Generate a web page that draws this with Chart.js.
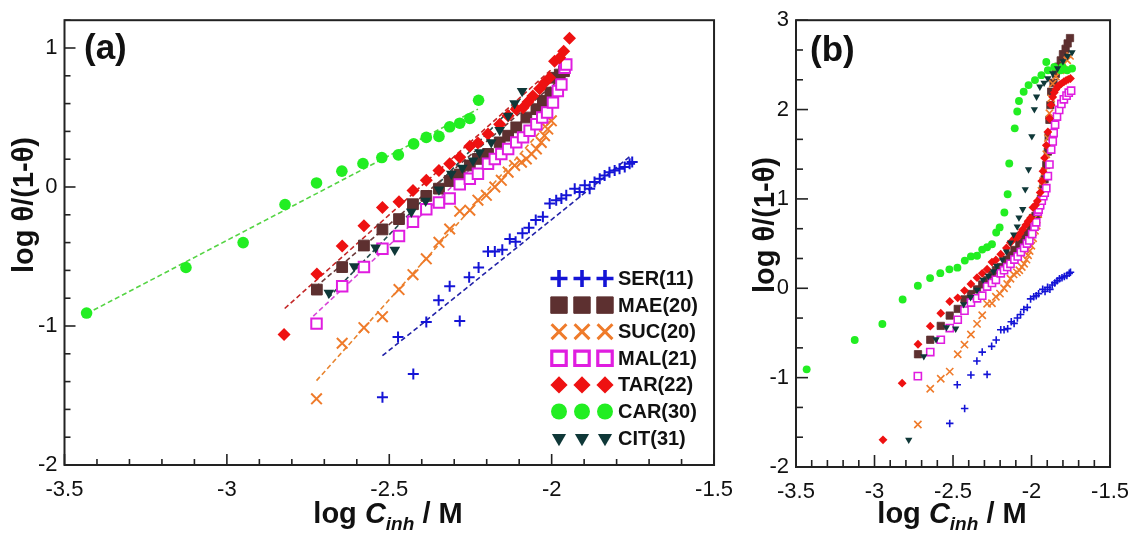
<!DOCTYPE html>
<html>
<head>
<meta charset="utf-8">
<script src="https://cdn.jsdelivr.net/npm/chart.js@4.4.0/dist/chart.umd.min.js"></script>
<style>
  body { margin: 0; background: #fff; width: 1141px; height: 533px; overflow: hidden; position: relative; }
  canvas { position: absolute; top: 0; }
  #chartA { left: 0; }
  #chartB { left: 745px; }
</style>
</head>
<body>
<canvas id="chartA" width="745" height="533"></canvas>
<canvas id="chartB" width="396" height="533"></canvas>
<script>
// axis ticks
const xTicks = [-3.5, -3, -2.5, -2, -1.5];
const yTicksA = [-2, -1, 0, 1];
const yTicksB = [-2, -1, 0, 1, 2, 3];
const seriesNames = ["SER(11)", "MAE(20)", "SUC(20)", "MAL(21)", "TAR(22)", "CAR(30)", "CIT(31)"];

// panel (a) points, log C vs log theta/(1-theta)
const serX = [-2.521, -2.473, -2.426, -2.386, -2.348, -2.314, -2.283, -2.254, -2.225, -2.196, -2.175, -2.152, -2.129, -2.111, -2.090, -2.070, -2.049, -2.027, -2.006, -1.986, -1.970, -1.955, -1.929, -1.914, -1.898, -1.883, -1.868, -1.852, -1.837, -1.822, -1.806, -1.791, -1.775, -1.760, -1.752];
const serY = [-1.512, -1.079, -1.345, -0.971, -0.814, -0.714, -0.964, -0.650, -0.579, -0.464, -0.464, -0.452, -0.374, -0.393, -0.333, -0.293, -0.238, -0.214, -0.119, -0.095, -0.083, -0.060, -0.012, -0.036, 0.012, -0.012, 0.036, 0.060, 0.083, 0.107, 0.119, 0.131, 0.143, 0.167, 0.179];
const maeX = [-2.723, -2.645, -2.578, -2.521, -2.470, -2.427, -2.386, -2.347, -2.314, -2.283, -2.252, -2.227, -2.196, -2.160, -2.134, -2.109, -2.078, -2.047, -2.027, -2.004, -1.991, -1.975, -1.962];
const maeY = [-0.738, -0.576, -0.421, -0.305, -0.231, -0.124, -0.064, -0.012, 0.043, 0.090, 0.155, 0.202, 0.238, 0.321, 0.369, 0.429, 0.500, 0.560, 0.619, 0.679, 0.786, 0.809, 0.833];
const sucX = [-2.724, -2.645, -2.578, -2.521, -2.470, -2.427, -2.386, -2.347, -2.314, -2.283, -2.252, -2.227, -2.201, -2.175, -2.155, -2.134, -2.114, -2.093, -2.078, -2.062, -2.047, -2.032, -2.022, -2.012, -2.001];
const sucY = [-1.524, -1.124, -1.012, -0.933, -0.738, -0.631, -0.517, -0.398, -0.302, -0.174, -0.167, -0.095, -0.060, 0.000, 0.048, 0.107, 0.155, 0.178, 0.202, 0.238, 0.274, 0.321, 0.369, 0.417, 0.476];
const malX = [-2.724, -2.645, -2.578, -2.521, -2.470, -2.427, -2.386, -2.347, -2.314, -2.283, -2.252, -2.227, -2.196, -2.175, -2.155, -2.134, -2.109, -2.088, -2.068, -2.047, -2.029, -2.014, -1.996, -1.981, -1.970, -1.960, -1.955];
const malY = [-0.983, -0.714, -0.576, -0.445, -0.352, -0.250, -0.160, -0.112, -0.083, 0.019, 0.060, 0.095, 0.167, 0.202, 0.238, 0.274, 0.321, 0.357, 0.405, 0.452, 0.500, 0.536, 0.607, 0.690, 0.738, 0.857, 0.881];
const tarX = [-2.824, -2.723, -2.645, -2.578, -2.521, -2.470, -2.427, -2.386, -2.347, -2.314, -2.283, -2.252, -2.227, -2.196, -2.160, -2.134, -2.109, -2.088, -2.073, -2.058, -2.037, -2.022, -2.006, -1.991, -1.975, -1.963, -1.945];
const tarY = [-1.062, -0.626, -0.424, -0.279, -0.148, -0.107, -0.026, 0.048, 0.119, 0.167, 0.214, 0.293, 0.317, 0.381, 0.452, 0.512, 0.560, 0.571, 0.612, 0.655, 0.707, 0.750, 0.786, 0.905, 0.929, 0.976, 1.071];
const carX = [-3.432, -3.126, -2.950, -2.821, -2.724, -2.646, -2.581, -2.523, -2.472, -2.425, -2.386, -2.347, -2.314, -2.283, -2.252, -2.225];
const carY = [-0.907, -0.579, -0.400, -0.126, 0.029, 0.114, 0.169, 0.212, 0.231, 0.310, 0.357, 0.364, 0.433, 0.459, 0.493, 0.624];
const citX = [-2.686, -2.608, -2.542, -2.483, -2.432, -2.388, -2.347, -2.309, -2.275, -2.242, -2.222, -2.186, -2.160, -2.134, -2.114, -2.091];
const citY = [-0.762, -0.571, -0.436, -0.452, -0.179, -0.100, -0.019, 0.095, 0.138, 0.190, 0.250, 0.321, 0.410, 0.512, 0.602, 0.690];

// points only shown in panel (b)
const tarLowX = [-2.946];
const tarLowY = [-1.696];
const citLowX = [-2.782];
const citLowY = [-1.696];
const maeTailX = [-1.950, -1.940, -1.927, -1.917, -1.906, -1.896, -1.891, -1.886, -1.880, -1.875, -1.860, -1.845, -1.830, -1.814, -1.800, -1.783, -1.770, -1.755];
const maeTailY = [0.92, 1.00, 1.11, 1.22, 1.38, 1.53, 1.70, 1.885, 2.05, 2.20, 2.30, 2.40, 2.48, 2.55, 2.62, 2.68, 2.74, 2.80];
const sucTailX = [-1.990, -1.978, -1.967, -1.957, -1.947, -1.937, -1.927, -1.917, -1.906, -1.896, -1.886, -1.875, -1.865, -1.845, -1.814, -1.794, -1.773, -1.755];
const sucTailY = [0.56, 0.644, 0.70, 0.83, 0.978, 1.09, 1.20, 1.311, 1.50, 1.681, 1.959, 2.126, 2.29, 2.37, 2.44, 2.51, 2.552, 2.60];
const malTailX = [-1.945, -1.935, -1.925, -1.916, -1.906, -1.896, -1.886, -1.875, -1.865, -1.859, -1.850, -1.838, -1.824, -1.810, -1.794, -1.777, -1.763, -1.748];
const malTailY = [0.93, 0.98, 1.03, 1.07, 1.12, 1.256, 1.385, 1.552, 1.644, 1.737, 1.83, 1.922, 1.996, 2.063, 2.115, 2.156, 2.189, 2.211];
const tarTailX = [-1.935, -1.927, -1.917, -1.906, -1.896, -1.886, -1.875, -1.865, -1.855, -1.845, -1.834, -1.822, -1.810, -1.794, -1.780, -1.766, -1.752];
const tarTailY = [1.20, 1.311, 1.459, 1.60, 1.75, 1.90, 2.052, 2.14, 2.19, 2.225, 2.256, 2.275, 2.29, 2.311, 2.325, 2.338, 2.348];
const carTailX = [-2.203, -2.173, -2.152, -2.142, -2.107, -2.091, -2.080, -2.050, -2.019, -1.978, -1.937, -1.906, -1.896, -1.855, -1.814, -1.803, -1.773, -1.742];
const carTailY = [0.681, 0.848, 1.052, 1.396, 1.79, 1.978, 2.096, 2.2, 2.274, 2.33, 2.385, 2.533, 2.44, 2.478, 2.44, 2.478, 2.44, 2.459];
const citTailX = [-2.080, -2.056, -2.040, -2.019, -1.998, -1.982, -1.968, -1.947, -1.920, -1.896, -1.865, -1.834, -1.800, -1.770, -1.742];
const citTailY = [0.792, 0.885, 1.108, 1.33, 1.70, 2.003, 2.144, 2.256, 2.30, 2.348, 2.404, 2.46, 2.54, 2.60, 2.64];

// dashed linear fits in panel (a), end points
const serFitX = [-2.521, -1.758], serFitY = [-1.214, 0.221];
const maeFitX = [-2.727, -1.963], maeFitY = [-0.720, 0.800];
const sucFitX = [-2.724, -1.996], sucFitY = [-1.393, 0.500];
const malFitX = [-2.734, -1.965], malFitY = [-0.929, 0.750];
const tarFitX = [-2.822, -2.001], tarFitY = [-0.874, 0.845];
const carFitX = [-3.432, -2.227], carFitY = [-0.912, 0.560];
const citFitX = [-2.688, -2.093], citFitY = [-0.798, 0.643];

const FONT = "'Liberation Sans', Arial, sans-serif";
const pts = (xs, ys) => xs.map((x, i) => ({x: x, y: ys[i]}));

// marker styles per series; leg = radius and line width in the legend of (a)
const styles = [
    {pointStyle: "cross", radius: 5.5, borderWidth: 2, color: "#1414d6", fill: "#1414d6", fit: "#2323a8", leg: [8.5, 3.6]},
    {pointStyle: "rect", radius: 7.6, borderWidth: 1, color: "#5d3030", fill: "#5d3030", fit: "#6e3c3c", leg: [11.6, 1]},
    {pointStyle: "crossRot", radius: 7.5, borderWidth: 2, color: "#ef7b2b", fill: "#ef7b2b", fit: "#e8842f", leg: [10.5, 3]},
    {pointStyle: "rect", radius: 7.4, borderWidth: 2, color: "#e01de0", fill: "#ffffff", fit: "#d846d8", leg: [10.2, 3.2]},
    {pointStyle: "rectRot", radius: 6.5, borderWidth: 0, color: "#ee1111", fill: "#ee1111", fit: "#c42828", leg: [8.6, 0]},
    {pointStyle: "circle", radius: 5.8, borderWidth: 0, color: "#22ee22", fill: "#22ee22", fit: "#55d444", leg: [8, 0]},
    {pointStyle: "triangle", radius: 6.2, borderWidth: 0, color: "#0f3838", fill: "#0f3838", fit: "#234c4c", rotation: 180, leg: [8.2, 0]}
];

function scatterSet(i, data, k) {
    const s = styles[i];
    return {
        label: seriesNames[i], data: data, showLine: false, order: 10 - i,
        pointStyle: s.pointStyle, pointRadius: s.radius * k, pointRotation: s.rotation || 0,
        pointBorderWidth: s.borderWidth * (k < 1 ? 0.8 : 1),
        pointBorderColor: s.color, pointBackgroundColor: s.fill
    };
}
function fitSet(i, xs, ys) {
    return {
        label: "fit", data: pts(xs, ys), showLine: true, order: 20,
        borderColor: styles[i].fit, borderWidth: 1.6, borderDash: [5, 3], pointRadius: 0
    };
}

// inward tick marks, frame, titles
const axesPlugin = {
    id: "axesPlugin",
    afterDraw(chart, args, o) {
        const {ctx, chartArea: a, scales: {x, y}} = chart;
        ctx.save();
        ctx.strokeStyle = "#222";
        ctx.lineWidth = 1.6;
        const nx = Math.round((o.xMax - o.xMin) / o.xStep);
        for (let i = 0; i <= nx; i++) {
            const px = x.getPixelForValue(o.xMin + i * o.xStep);
            const len = i % o.xEvery === 0 ? o.major : o.minor;
            ctx.beginPath(); ctx.moveTo(px, a.bottom); ctx.lineTo(px, a.bottom - len); ctx.stroke();
        }
        const ny = Math.round((o.yMax - o.yMin) / o.yStep);
        for (let i = 0; i <= ny; i++) {
            const py = y.getPixelForValue(o.yMin + i * o.yStep);
            const len = i % o.yEvery === 0 ? o.major : o.minor;
            ctx.beginPath(); ctx.moveTo(a.left, py); ctx.lineTo(a.left + len, py); ctx.stroke();
        }
        ctx.lineWidth = 2;
        ctx.strokeRect(a.left, a.top, a.right - a.left, a.bottom - a.top);

        ctx.fillStyle = "#111";
        // panel letter
        ctx.font = "bold 35px " + FONT;
        ctx.textBaseline = "middle";
        ctx.textAlign = "left";
        ctx.fillText(o.letter, o.letterX, o.letterY);

        // x title: log C_inh / M
        const big = "bold 29px " + FONT, bigI = "italic bold 29px " + FONT, sub = "italic bold 19px " + FONT;
        const parts = [["log ", big, 0], ["C", bigI, 0], ["inh", sub, 7], [" / M", big, 0]];
        let w = 0;
        parts.forEach(p => { ctx.font = p[1]; w += ctx.measureText(p[0]).width; });
        let cx = o.xTitleX - w / 2;
        ctx.textBaseline = "alphabetic";
        parts.forEach(p => { ctx.font = p[1]; ctx.fillText(p[0], cx, o.xTitleY + p[2]); cx += ctx.measureText(p[0]).width; });

        // y title
        ctx.translate(o.yTitleX, o.yTitleY);
        ctx.rotate(-Math.PI / 2);
        ctx.font = big;
        ctx.textAlign = "center";
        ctx.textBaseline = "middle";
        ctx.fillText("log \u03B8/(1-\u03B8)", 0, 0);
        ctx.restore();
    }
};

// legend of panel (a): three markers per row
const legendPlugin = {
    id: "legendPlugin",
    afterDraw(chart, args, o) {
        if (!o.show) return;
        const ctx = chart.ctx;
        ctx.save();
        styles.forEach((s, i) => {
            const yy = o.y0 + i * o.dy;
            ctx.fillStyle = s.fill;
            ctx.strokeStyle = s.color;
            ctx.lineWidth = s.leg[1];
            o.xs.forEach(xx => {
                Chart.helpers.drawPoint(ctx, {
                    pointStyle: s.pointStyle, rotation: s.rotation || 0,
                    radius: s.leg[0], borderWidth: s.leg[1]
                }, xx, yy);
            });
            ctx.fillStyle = "#111";
            ctx.font = "bold 20px " + FONT;
            ctx.textBaseline = "middle";
            ctx.textAlign = "left";
            ctx.fillText(seriesNames[i], o.textX, yy + 1);
        });
        ctx.restore();
    }
};

function makeChart(id, datasets, yTicks, yMax, pad, yW, xH, axesOpts, legendOpts) {
    return new Chart(document.getElementById(id), {
        type: "scatter",
        data: {datasets: datasets},
        options: {
            responsive: false, animation: false, devicePixelRatio: 1,
            layout: {padding: pad},
            plugins: {legend: {display: false}, tooltip: {enabled: false},
                axesPlugin: axesOpts, legendPlugin: legendOpts},
            scales: {
                x: {type: "linear", min: -3.5, max: -1.5,
                    grid: {display: false, drawTicks: false}, border: {display: false},
                    afterBuildTicks: s => { s.ticks = xTicks.map(v => ({value: v})); },
                    afterFit: s => { s.height = xH; },
                    ticks: {padding: 12, color: "#111", font: {family: FONT, size: 22}, callback: v => String(v)}},
                y: {type: "linear", min: -2, max: yMax,
                    grid: {display: false, drawTicks: false}, border: {display: false},
                    afterBuildTicks: s => { s.ticks = yTicks.map(v => ({value: v})); },
                    afterFit: s => { s.width = yW; },
                    ticks: {padding: 7, color: "#111", font: {family: FONT, size: 22}, callback: v => String(v)}}
            }
        },
        plugins: [axesPlugin, legendPlugin]
    });
}

// panel (a)
const setsA = [
    scatterSet(0, pts(serX, serY), 1),
    scatterSet(1, pts(maeX, maeY), 1),
    scatterSet(2, pts(sucX, sucY), 1),
    scatterSet(3, pts(malX, malY), 1),
    scatterSet(4, pts(tarX, tarY), 1),
    scatterSet(5, pts(carX, carY), 1),
    scatterSet(6, pts(citX, citY), 1),
    fitSet(0, serFitX, serFitY), fitSet(1, maeFitX, maeFitY), fitSet(2, sucFitX, sucFitY),
    fitSet(3, malFitX, malFitY), fitSet(4, tarFitX, tarFitY), fitSet(5, carFitX, carFitY),
    fitSet(6, citFitX, citFitY)
];
makeChart("chartA", setsA, yTicksA, 1.2, {left: 0, right: 30, top: 16.5, bottom: 0}, 64.5, 68,
    {xMin: -3.5, xMax: -1.5, xStep: 0.1, xEvery: 5, yMin: -2, yMax: 1.2, yStep: 0.2, yEvery: 5,
     major: 11, minor: 6, letter: "(a)", letterX: 84, letterY: 49,
     xTitleX: 388, xTitleY: 523, yTitleX: 25, yTitleY: 205},
    {show: true, xs: [559, 582, 605], y0: 278.5, dy: 26.6, textX: 618});

// panel (b): same data plus the points left out of (a)
const setsB = [
    scatterSet(0, pts(serX, serY), 0.68),
    scatterSet(1, pts(maeX.concat(maeTailX), maeY.concat(maeTailY)), 0.68),
    scatterSet(2, pts(sucX.concat(sucTailX), sucY.concat(sucTailY)), 0.68),
    scatterSet(3, pts(malX.concat(malTailX), malY.concat(malTailY)), 0.68),
    scatterSet(4, pts(tarLowX.concat(tarX, tarTailX), tarLowY.concat(tarY, tarTailY)), 0.68),
    scatterSet(5, pts(carX.concat(carTailX), carY.concat(carTailY)), 0.68),
    scatterSet(6, pts(citLowX.concat(citX, citTailX), citLowY.concat(citY, citTailY)), 0.68)
];
makeChart("chartB", setsB, yTicksB, 3, {left: 0, right: 20, top: 18, bottom: 0}, 51, 66,
    {xMin: -3.5, xMax: -1.5, xStep: 0.1, xEvery: 5, yMin: -2, yMax: 3, yStep: 1 / 3, yEvery: 3,
     major: 12, minor: 7, letter: "(b)", letterX: 65, letterY: 51,
     xTitleX: 207, xTitleY: 523, yTitleX: 21, yTitleY: 225},
    {show: false});
</script>
</body>
</html>
